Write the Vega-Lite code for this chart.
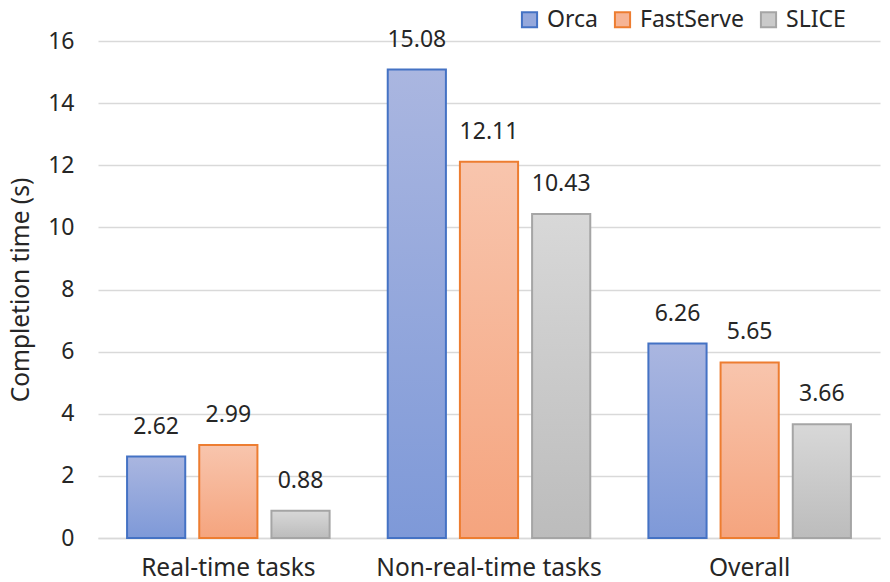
{
  "$schema": "https://vega.github.io/schema/vega-lite/v6.json",
  "width": 782,
  "height": 497,
  "autosize": {"type": "none"},
  "padding": {"left": 98, "top": 41, "right": 10, "bottom": 44},
  "config": {"font": "Noto Sans", "view": {"stroke": null}},
  "data": {
    "values": [
      {"task": "Real-time tasks", "system": "Orca", "time": 2.62},
      {"task": "Real-time tasks", "system": "FastServe", "time": 2.99},
      {"task": "Real-time tasks", "system": "SLICE", "time": 0.88},
      {"task": "Non-real-time tasks", "system": "Orca", "time": 15.08},
      {"task": "Non-real-time tasks", "system": "FastServe", "time": 12.11},
      {"task": "Non-real-time tasks", "system": "SLICE", "time": 10.43},
      {"task": "Overall", "system": "Orca", "time": 6.26},
      {"task": "Overall", "system": "FastServe", "time": 5.65},
      {"task": "Overall", "system": "SLICE", "time": 3.66}
    ]
  },
  "encoding": {
    "x": {
      "field": "task",
      "type": "nominal",
      "sort": ["Real-time tasks", "Non-real-time tasks", "Overall"],
      "scale": {"paddingInner": 0.223, "paddingOuter": 0.1115},
      "axis": {
        "title": null,
        "labelAngle": 0,
        "labelFontSize": 24.5,
        "labelColor": "#262626",
        "labelLimit": 0,
        "ticks": false,
        "domainColor": "#d9d9d9",
        "domainWidth": 1.5,
        "labelPadding": 18
      }
    },
    "xOffset": {
      "field": "system",
      "type": "nominal",
      "sort": ["Orca", "FastServe", "SLICE"],
      "scale": {"domain": ["Orca", "FastServe", "SLICE"], "paddingInner": 0.194, "paddingOuter": 0}
    },
    "y": {
      "field": "time",
      "type": "quantitative",
      "scale": {"domain": [0, 16]},
      "axis": {
        "title": "Completion time (s)",
        "titleFontSize": 24.5,
        "titleFontWeight": "normal",
        "titleColor": "#262626",
        "titlePadding": 14,
        "labelFontSize": 23,
        "labelColor": "#262626",
        "labelPadding": 24,
        "values": [0, 2, 4, 6, 8, 10, 12, 14, 16],
        "ticks": false,
        "domain": false,
        "gridColor": "#d9d9d9",
        "gridWidth": 1.5
      }
    }
  },
  "layer": [
    {
      "mark": {"type": "bar", "strokeOpacity": 0},
      "encoding": {
        "y": {"datum": 0, "type": "quantitative"},
        "fill": {
          "field": "system",
          "type": "nominal",
          "scale": {"domain": ["Orca", "FastServe", "SLICE"], "range": ["#95a8dc", "#f6b495", "#cacaca"]},
          "legend": {
            "title": null,
            "orient": "none",
            "legendX": 420,
            "legendY": -33,
            "direction": "horizontal",
            "symbolType": "square",
            "symbolSize": 230,
            "symbolStrokeWidth": 2,
            "symbolOpacity": 1,
            "labelFontSize": 23,
            "labelColor": "#262626",
            "labelOffset": 6,
            "columnPadding": 12
          }
        }
      }
    },
    {
      "transform": [{"filter": "datum.system === 'Orca'"}],
      "mark": {
        "type": "bar",
        "strokeWidth": 2,
        "fill": {"gradient": "linear", "x1": 0, "y1": 0, "x2": 0, "y2": 1, "stops": [{"offset": 0, "color": "#aab6e0"}, {"offset": 1, "color": "#7e99d8"}]}
      },
      "encoding": {
        "stroke": {
          "field": "system",
          "type": "nominal",
          "scale": {"domain": ["Orca", "FastServe", "SLICE"], "range": ["#4472c4", "#ed7d31", "#a5a5a5"]}
        }
      }
    },
    {
      "transform": [{"filter": "datum.system === 'FastServe'"}],
      "mark": {
        "type": "bar",
        "strokeWidth": 2,
        "fill": {"gradient": "linear", "x1": 0, "y1": 0, "x2": 0, "y2": 1, "stops": [{"offset": 0, "color": "#f8c5ad"}, {"offset": 1, "color": "#f5a47e"}]}
      },
      "encoding": {
        "stroke": {
          "field": "system",
          "type": "nominal",
          "scale": {"domain": ["Orca", "FastServe", "SLICE"], "range": ["#4472c4", "#ed7d31", "#a5a5a5"]}
        }
      }
    },
    {
      "transform": [{"filter": "datum.system === 'SLICE'"}],
      "mark": {
        "type": "bar",
        "strokeWidth": 2,
        "fill": {"gradient": "linear", "x1": 0, "y1": 0, "x2": 0, "y2": 1, "stops": [{"offset": 0, "color": "#d8d8d8"}, {"offset": 1, "color": "#bcbcbc"}]}
      },
      "encoding": {
        "stroke": {
          "field": "system",
          "type": "nominal",
          "scale": {"domain": ["Orca", "FastServe", "SLICE"], "range": ["#4472c4", "#ed7d31", "#a5a5a5"]}
        }
      }
    },
    {
      "mark": {"type": "text", "dy": -18, "baseline": "bottom", "fontSize": 23, "color": "#262626"},
      "encoding": {"text": {"field": "time", "type": "quantitative", "format": ".2f"}}
    }
  ]
}
